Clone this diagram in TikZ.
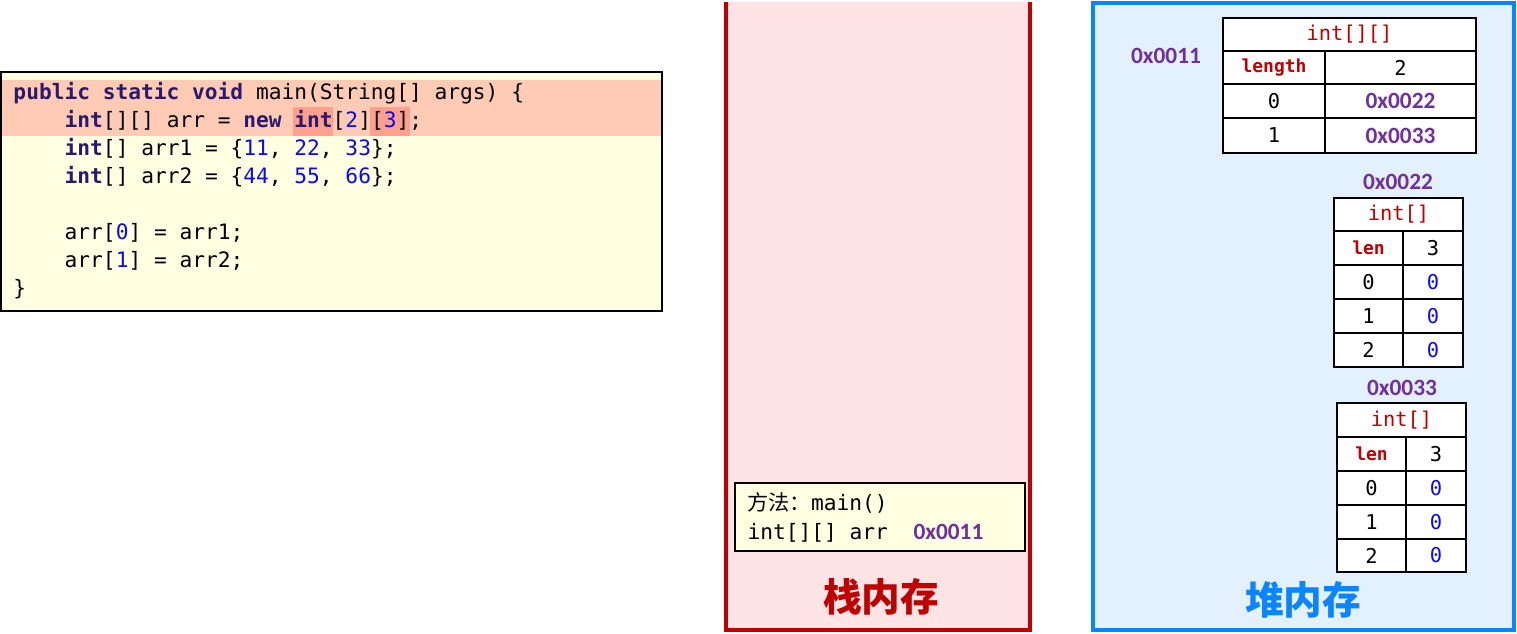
\documentclass[tikz,border=0pt]{standalone}
\usepackage{fontspec}
\setmonofont{DejaVu Sans Mono}
\newfontfamily\cjk{Noto Sans CJK SC}
\newfontfamily\addrfont{Carlito}

\definecolor{codebg}{RGB}{255,255,225}
\definecolor{bandcol}{RGB}{255,203,180}
\definecolor{hlcol}{RGB}{255,160,142}
\definecolor{kwcol}{RGB}{43,25,110}
\definecolor{numblue}{RGB}{10,10,240}
\definecolor{addrpurple}{RGB}{112,48,160}
\definecolor{stackred}{RGB}{192,0,0}
\definecolor{stackbg}{RGB}{255,228,230}
\definecolor{heapblue}{RGB}{10,132,255}
\definecolor{heapbg}{RGB}{227,241,255}
\definecolor{typered}{RGB}{192,0,0}

\newcommand{\kw}[1]{\textcolor{kwcol}{\bfseries #1}}
\newcommand{\nm}[1]{\textcolor{numblue}{#1}}

\tikzset{every picture/.style={line width=0.75pt}}
\tikzset{
  codeline/.style={anchor=base west, inner sep=0pt, font=\fontsize{15.9}{20}\selectfont\ttfamily},
  addr/.style={inner sep=0pt, text=addrpurple, font=\addrfont\bfseries\fontsize{17.5}{20}\selectfont},
  memtitle/.style={inner sep=0pt, font=\cjk\bfseries\fontsize{29}{32}\selectfont},
  tableline/.style={line width=2},
  hdr/.style={inner sep=0pt, text=typered, font=\fontsize{15.3}{18}\selectfont\ttfamily},
  lenlbl/.style={inner sep=0pt, text=typered, font=\fontsize{13.5}{16}\selectfont\ttfamily\bfseries},
  val/.style={inner sep=0pt, font=\fontsize{15.3}{18}\selectfont\ttfamily},
  zero/.style={val, text=numblue}
}

\begin{document}
\begin{tikzpicture}[x=0.75pt,y=0.75pt,yscale=-1,xscale=1]
\useasboundingbox (0,0) rectangle (1517,634);
%Shape: Rectangle [code box]
\draw [line width=1.5, fill=codebg] (1,72) rectangle (662,311);
%Shape: Rectangle [current line band]
\fill [bandcol] (2,80) rectangle (661,136);
\fill [hlcol] (293,107) rectangle (333,136);
\fill [hlcol] (370,107) rectangle (410,136);

% Text Node
\draw (13,100) node (line1) [codeline] {\kw{public static void} main(String[] args) \{};
% Text Node
\draw (64.2,128) node (line2) [codeline] {\kw{int}[][] arr = \kw{new} \kw{int}[\nm{2}][\nm{3}];};
% Text Node
\draw (64.2,156) node (line3) [codeline] {\kw{int}[] arr1 = \{\nm{11}, \nm{22}, \nm{33}\};};
% Text Node
\draw (64.2,184) node (line4) [codeline] {\kw{int}[] arr2 = \{\nm{44}, \nm{55}, \nm{66}\};};
% Text Node
\draw (64.2,240) node (line6) [codeline] {arr[\nm{0}] = arr1;};
% Text Node
\draw (64.2,268) node (line7) [codeline] {arr[\nm{1}] = arr2;};
% Text Node
\draw (13,296) node (line8) [codeline] {\}};

%Shape: Stack memory
\fill [stackbg] (726,2) rectangle (1030,630);
\draw [line width=3.5, stackred] (726,2) -- (726,630) -- (1030,630) -- (1030,2);
%Shape: Rectangle [frame of main]
\draw [line width=1.5, fill=codebg] (735,483) rectangle (1025,551);
% Text Node
\draw (747,510) node (frame1) [codeline] {{\cjk 方法：}main()};
% Text Node
\draw (747,539) node (frame2) [codeline] {int[][] arr};
% Text Node
\draw (913,539) node (frameaddr) [addr, anchor=base west] {0x0011};
% Text Node
\draw (881,597) node (stacktitle) [memtitle, text=stackred] {栈内存};

%Shape: Heap memory
\draw [line width=3.5, draw=heapblue, fill=heapbg] (1093,3) rectangle (1514,630);

%Shape: Table [int[][] at 0x0011]
\draw [tableline, fill=white] (1223,18) rectangle (1476,153);
\draw [tableline] (1223,51) -- (1476,51) (1223,84) -- (1476,84) (1223,118) -- (1476,118) (1325,51) -- (1325,153);
% Text Node
\draw (1166,56) node (addr11) [addr] {0x0011};
\draw (1349.5,34.5) node (outerhdr) [hdr] {int[][]};
\draw (1274,68) node (outerlen) [lenlbl] {length};
\draw (1400.5,68) node (outerlenv) [val] {2};
\draw (1274,101) node (outeri0) [val] {0};
\draw (1400.5,101) node (outerv0) [addr] {0x0022};
\draw (1274,135.5) node (outeri1) [val] {1};
\draw (1400.5,135.5) node (outerv1) [addr] {0x0033};

%Shape: Table [int[] at 0x0022]
\draw [tableline, fill=white] (1334,198) rectangle (1463,367);
\draw [tableline] (1334,231) -- (1463,231) (1334,265) -- (1463,265) (1334,299) -- (1463,299) (1334,333) -- (1463,333) (1403,231) -- (1403,367);
% Text Node
\draw (1398,182) node (addr22) [addr] {0x0022};
\draw (1398.5,214.5) node (firsthdr) [hdr] {int[]};
\draw (1368.5,248) node (firstlen) [lenlbl] {len};
\draw (1433,248) node (firstlenv) [val] {3};
\draw (1368.5,282) node (firsti0) [val] {0};
\draw (1433,282) node (firstv0) [zero] {0};
\draw (1368.5,316) node (firsti1) [val] {1};
\draw (1433,316) node (firstv1) [zero] {0};
\draw (1368.5,350) node (firsti2) [val] {2};
\draw (1433,350) node (firstv2) [zero] {0};

%Shape: Table [int[] at 0x0033]
\draw [tableline, fill=white] (1337,403) rectangle (1466,572);
\draw [tableline] (1337,437) -- (1466,437) (1337,471) -- (1466,471) (1337,505) -- (1466,505) (1337,539) -- (1466,539) (1406,437) -- (1406,572);
% Text Node
\draw (1402,388) node (addr33) [addr] {0x0033};
\draw (1401.5,420) node (secondhdr) [hdr] {int[]};
\draw (1371.5,454) node (secondlen) [lenlbl] {len};
\draw (1436,454) node (secondlenv) [val] {3};
\draw (1371.5,488) node (secondi0) [val] {0};
\draw (1436,488) node (secondv0) [zero] {0};
\draw (1371.5,522) node (secondi1) [val] {1};
\draw (1436,522) node (secondv1) [zero] {0};
\draw (1371.5,555.5) node (secondi2) [val] {2};
\draw (1436,555.5) node (secondv2) [zero] {0};

% Text Node
\draw (1303,600) node (heaptitle) [memtitle, text=heapblue] {堆内存};

\end{tikzpicture}
\end{document}
